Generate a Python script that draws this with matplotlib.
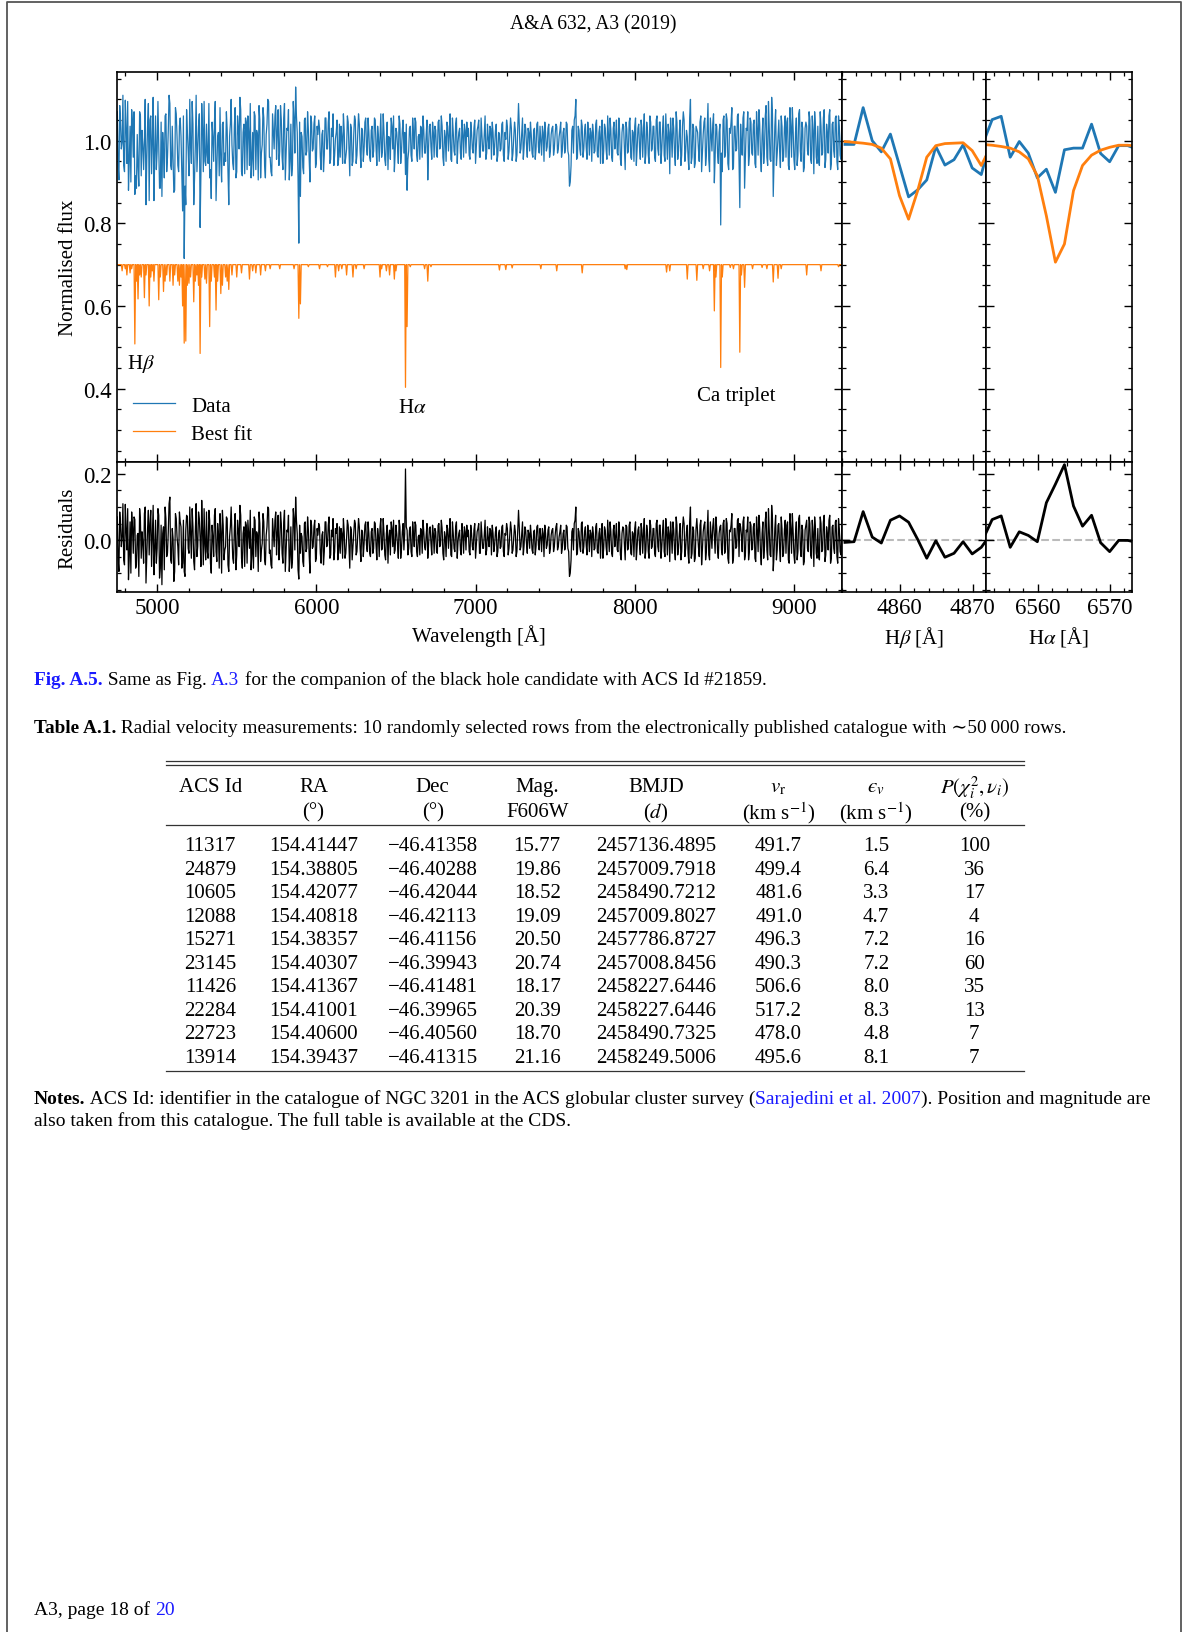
import numpy as np
import matplotlib
matplotlib.use("Agg")
import matplotlib.pyplot as plt
from matplotlib.lines import Line2D
from matplotlib.ticker import MultipleLocator

plt.rcParams['font.family'] = ['Liberation Serif', 'DejaVu Serif']
plt.rcParams['mathtext.fontset'] = 'stix'

# ==============================
# Data
# ==============================
# full spectrum, resampled on a 5 A grid (4750 ... 9300 A)
wave = np.arange(4750, 9301, 5)

# residuals (data - best fit) in units of 1e-3 at 4750, 4760, ... (20 values per 200 A)
resid_milli_a = [
    70, -95, 45, 10, -60, 108, -30, -120, 55, 85, -40, 62, -75, 20, 95, -55, -10, 80, -130, 35,
    -45, 90, 15, -105, 60, -25, 75, -85, -135, 40, 100, -50, 25, 130, -70, 5, -95, 65, -20, 85,
    40, -70, -95, 30, 70, -40, 20, 95, -65, 30, -50, 85, 5, 120, -75, -15, 85, -55, 60, -100,
    10, 75, -35, 50, -85, 25, 90, -60, -20, 65, -95, 40, 15, -70, 80, -45, 30, 105, -55, 20,
    -80, 45, 60, -25, -90, 35, 70, -50, 15, 85, -65, -10, 55, -75, 40, 95, -30, -85, 20, 60,
    -45, 75, -15, 50, -70, 90, -35, 25, -95, 40, -60, 65, 130, 20, -118, -40, 10, -80, 55, -25,
    30, -100, 45, -20, 60, -55, 15, 40, -70, 25, -35, 55, -15, 70, -45, 10, -60, 35, 50, -30,
    -40, 20, 65, -55, 5, 45, -85, 30, -20, 60, -45, 15, 40, -65, 25, -10, 55, -35, 20, -50,
    35, -25, 50, -60, 10, 40, -30, 65, -45, 20, -70, 30, 55, -20, -40, 45, -15, 60, -55, 25,
    -30, 215, 30, -25, 40, -50, 20, 55, -35, 10, -45, 30, 60, -20, 15, -55, 35, -10, 45, -40,
    25, -40, 50, -15, 35, -60, 10, 45, -25, 65, -50, 20, -35, 55, -5, 30, -45, 15, 40, -30,
    10, -35, 45, -20, 30, -55, 25, 50, -40, 15, -25, 60, -30, 5, 35, -45, 20, -15, 40, -35,
    30, -20, 45, -50, 15, 35, -25, 55, -40, 10, 25, -35, 90, -30, 20, -45, 40, -10, 30, -25,
    15, -40, 30, -20, 45, -30, 10, 35, -50, 20, -15, 40, -25, 30, -35, 15, 50, -20, 25, -40,
    20, -30, 45, -25, -110, -60, 35, 50, 100, -40, 25, -35, 55, -20, 40, -45, 15, 30, -50, 20,
    -25, 50, -40, 35, 15, -55, 40, -20, 60, -35, 25, -50, 45, 10, -30, 55, -45, 20, 35, -60,
    40, -25, 55, -45, 20, 35, -60, 30, -15, 50, -40, 65, -30, 25, -55, 45, -20, 35, -50, 60,
    -35, 45, -20, 60, -50, 25, 40, -65, 15, 55, -30, 70, -45, 20, -60, 35, 50, -25, 45, -70,
    100, -40, 30, -55, 65, -20, 45, -75, 25, 55, -35, 90, -60, 15, 40, 10, 70, -30, 20, 45,
    -45, 60, -30, 50, -70, 25, 80, -55, 35, -20, 65, 50, 15, 55, -60, 30, 70, -35, 45, -25,
    50, -65, 30, 75, -40, 20, -55, 60, -30, 95, -45, 105, -93, 35, -60, 45, -25, 70, -50, 30,
    -40, 55, -70, 35, 80, -45, 20, -60, 65, -25, 45, -75, 30, 60, -35, 50, -55, 25, 70, -40,
    35, -60, 50, -30, 75, -45, 20, 60, -70, 40, -25, 55, -50, 65, -35, 30,
]
# residuals at the half steps 4755, 4765, ... 9295
resid_milli_b = [
    -60, 85, -20, 110, -75, 30, 95, -50, -100, 40, 70, -85, 15, -110, 60, 25, -70, 100, -45, 90,
    50, -80, 105, -30, -70, 95, -115, 45, 20, -90, 65, -40, 110, -60, 35, -125, 80, 10, -75, 55,
    -85, 60, -110, 75, -25, 100, -55, 40, -90, 110, -20, 65, -80, 30, 95, -60, -35, 90, -70, 45,
    -50, 95, -65, 20, 80, -100, 45, -30, 70, -75, 10, 100, -55, 35, -90, 60, -20, 75, -85, 40,
    55, -70, 20, 90, -45, -85, 60, 25, -95, 50, -30, 80, -60, 15, 100, -40, -75, 65, -20, 85,
    20, -60, 85, -40, 55, -95, 30, 75, -50, -85, 95, -30, 60, -90, 45, 20, -65, 50, -35, 70,
    -45, 60, -25, 40, -65, 35, 50, -40, 15, -75, 55, -20, 45, -55, 30, 65, -35, 20, -60, 40,
    35, -55, 25, -40, 60, -20, 40, -60, 15, 50, -35, 65, -25, 30, -50, 45, -15, 55, -40, 25,
    -40, 55, -15, 35, -50, 65, -25, 20, -60, 45, 10, -45, 35, 60, -30, 20, -55, 40, -25, 50,
    20, 40, -45, 30, -35, 55, -20, 45, -50, 15, 35, -40, 25, -30, 50, -15, 40, -45, 20, 35,
    -35, 45, -20, 60, -40, 25, -50, 35, 15, -45, 55, -25, 40, -55, 20, -30, 50, -40, 25, 45,
    30, -45, 20, -30, 50, -15, 35, -40, 55, -25, 15, -45, 40, -20, 30, 45, -35, 25, -50, 20,
    -25, 40, -35, 20, 50, -45, 15, 30, -30, 45, -50, 25, 35, -20, 55, -15, 30, -40, 20, 45,
    -30, 25, -45, 40, -15, 35, -35, 20, 45, -25, 30, -40, 15, 35, -20, 40, -30, 10, 45, -25,
    30, -20, 40, -35, -100, 25, -30, 60, -45, 35, -20, 50, -40, 25, -15, 45, -35, 20, 40, -30,
    40, -35, 20, -55, 50, -25, 30, -45, 15, 55, -40, 30, -20, 50, -35, 25, -60, 40, -15, 45,
    -30, 45, -40, 25, -50, 55, -20, 40, -45, 30, 20, -55, 45, -35, 60, -25, 35, -40, 50, -20,
    45, -55, 30, -35, 65, -45, 20, 55, -40, 30, -60, 45, -25, 50, -35, 70, -50, 25, -40, 55,
    -55, 40, -65, 35, 20, -50, 60, -30, 45, -60, 30, -45, 55, -25, 65, -40, 35, -55, 40, -30,
    50, -40, 65, -55, 30, 45, -70, 35, -25, 60, -50, 40, -35, 70, -45, 25, -60, 55, -30, 40,
    -55, 70, -35, 40, -75, 55, -20, 85, -60, 30, -50, 65, -45, 75, -30, 50, -65, 35, -40, 60,
    45, -60, 80, -40, 25, -70, 55, -35, 75, -50, 30, -65, 45, -25, 70, -45, 60, -80, 35, -55,
    -50, 70, -35, 55, -65, 40, -30, 75, -55, 45, -40, 60, -70, 35, -45,
]

# absorption lines of the best-fit model (wavelength, normalised flux)
line_wave = [4780, 4800, 4810, 4830, 4840, 4860, 4870, 4880, 4890, 4900, 4920, 4930,
             4950, 4960, 4970, 4980, 5010, 5020, 5040, 5050, 5060, 5080, 5100, 5110,
             5130, 5140, 5150, 5160, 5170, 5180, 5190, 5200, 5210, 5230, 5240, 5250,
             5260, 5270, 5280, 5300, 5310, 5330, 5340, 5360, 5370, 5380, 5400, 5410,
             5430, 5440, 5450, 5470, 5500, 5530, 5580, 5600, 5620, 5650, 5680, 5710,
             5770, 5860, 5890, 5900, 5950, 6020, 6070, 6120, 6140, 6160, 6190, 6230,
             6250, 6300, 6400, 6410, 6440, 6460, 6490, 6500, 6560, 6570, 6590, 6680,
             6700, 6720, 7150, 7190, 7230, 7410, 7510, 7670, 7940, 7950, 8200, 8220,
             8330, 8390, 8430, 8470, 8500, 8510, 8540, 8550, 8600, 8620, 8660, 8670,
             8690, 8740, 8800, 8830, 8870, 8900, 8920, 9080, 9170, 9280]
line_flux = [0.985, 0.990, 0.975, 0.980, 0.990, 0.808, 0.960, 0.917, 0.975, 0.970, 0.920, 0.975,
             0.900, 0.970, 0.985, 0.960, 0.915, 0.970, 0.935, 0.960, 0.975, 0.960, 0.950, 0.975,
             0.960, 0.950, 0.970, 0.900, 0.810, 0.815, 0.950, 0.955, 0.970, 0.910, 0.960, 0.975,
             0.950, 0.785, 0.970, 0.965, 0.955, 0.850, 0.960, 0.970, 0.890, 0.960, 0.930, 0.950,
             0.970, 0.960, 0.940, 0.975, 0.970, 0.980, 0.965, 0.985, 0.980, 0.975, 0.985, 0.990,
             0.990, 0.990, 0.870, 0.905, 0.995, 0.990, 0.995, 0.970, 0.985, 0.990, 0.975, 0.970,
             0.990, 0.990, 0.970, 0.990, 0.985, 0.975, 0.965, 0.985, 0.703, 0.850, 0.995, 0.990,
             0.960, 0.995, 0.987, 0.988, 0.992, 0.990, 0.985, 0.980, 0.990, 0.988, 0.982, 0.985,
             0.965, 0.962, 0.990, 0.985, 0.888, 0.970, 0.751, 0.970, 0.993, 0.990, 0.788, 0.975,
             0.945, 0.990, 0.993, 0.990, 0.958, 0.967, 0.990, 0.975, 0.985, 0.995]
model_offset = 0.3

# zoom on H beta (native sampling)
hb_wave = [4852.45, 4853.70, 4854.95, 4856.20, 4857.45, 4858.70, 4859.95, 4861.20, 4862.45,
           4863.70, 4864.95, 4866.20, 4867.45, 4868.70, 4869.95, 4871.20, 4872.45]
hb_data = [0.991, 0.991, 1.080, 1.000, 0.973, 1.016, 0.940, 0.864, 0.881,
           0.905, 0.986, 0.941, 0.954, 0.990, 0.934, 0.918, 1.000]
hb_model = [0.998, 0.996, 0.994, 0.991, 0.982, 0.956, 0.867, 0.810, 0.879,
            0.960, 0.988, 0.993, 0.994, 0.995, 0.976, 0.940, 0.984]

# zoom on H alpha
ha_wave = [6552.45, 6553.70, 6554.95, 6556.20, 6557.45, 6558.70, 6559.95, 6561.20, 6562.45,
           6563.70, 6564.95, 6566.20, 6567.45, 6568.70, 6569.95, 6571.20, 6572.45, 6573.70]
ha_data = [0.994, 1.051, 1.059, 0.960, 0.998, 0.970, 0.910, 0.931, 0.875,
           0.978, 0.982, 0.982, 1.040, 0.969, 0.949, 0.988, 0.988, 0.980]
ha_model = [0.991, 0.989, 0.986, 0.982, 0.973, 0.956, 0.915, 0.818, 0.706,
            0.750, 0.879, 0.940, 0.965, 0.977, 0.984, 0.989, 0.989, 0.987]

# table A.1
tab_header1 = ["ACS Id", "RA", "Dec", "Mag.", "BMJD", r"$\mathit{v}_\mathrm{r}$",
               "$\u03f5_\\mathit{v}$", r"$P(\chi^2_i, \nu_i)$"]
tab_header2 = ["", "(°)", "(°)", "F606W", "($d$)", r"(km s$^{-1}$)", r"(km s$^{-1}$)", "(%)"]
acs_id = ["11317", "24879", "10605", "12088", "15271", "23145", "11426", "22284", "22723", "13914"]
ra = ["154.41447", "154.38805", "154.42077", "154.40818", "154.38357",
      "154.40307", "154.41367", "154.41001", "154.40600", "154.39437"]
dec = ["−46.41358", "−46.40288", "−46.42044", "−46.42113", "−46.41156",
       "−46.39943", "−46.41481", "−46.39965", "−46.40560", "−46.41315"]
mag = ["15.77", "19.86", "18.52", "19.09", "20.50", "20.74", "18.17", "20.39", "18.70", "21.16"]
bmjd = ["2457136.4895", "2457009.7918", "2458490.7212", "2457009.8027", "2457786.8727",
        "2457008.8456", "2458227.6446", "2458227.6446", "2458490.7325", "2458249.5006"]
v_r = ["491.7", "499.4", "481.6", "491.0", "496.3", "490.3", "506.6", "517.2", "478.0", "495.6"]
eps_v = ["1.5", "6.4", "3.3", "4.7", "7.2", "7.2", "8.0", "8.3", "4.8", "8.1"]
p_chi = ["100", "36", "17", "4", "16", "60", "35", "13", "7", "7"]

# ==============================
# Derived spectra
# ==============================
resid = np.empty(len(wave))
resid[0::2] = np.array(resid_milli_a) / 1000.0
resid[1::2] = np.array(resid_milli_b) / 1000.0
model = np.ones(len(wave))
for lw_, lf_ in zip(line_wave, line_flux):
    model[np.argmin(np.abs(wave - lw_))] = lf_
data = model + resid

hb_resid = np.array(hb_data) - np.array(hb_model)
ha_resid = np.array(ha_data) - np.array(ha_model)

# ==============================
# Page layout (pixels)
# ==============================
W, H = 1186, 1633
BLUE = '#1f77b4'
ORANGE = '#ff7f0e'
LINK = '#1a1aff'
FS = 15
TFS = 16.5  # tick labels
CFS = 13.9  # captions


def box(x0, y0, x1, y1):
    return [x0 / W, 1 - y1 / H, (x1 - x0) / W, (y1 - y0) / H]


def style(ax):
    ax.tick_params(which='both', direction='in', top=True, right=True, labelsize=TFS)
    ax.tick_params(which='major', length=5.5, width=1.0)
    ax.tick_params(which='minor', length=3.0, width=0.9)
    for sp in ax.spines.values():
        sp.set_linewidth(1.2)


fig = plt.figure(figsize=(W / 100, H / 100), dpi=100)

x_l, x_m, x_b, x_r = 116.7, 841.7, 986.0, 1131.7
y_t, y_m, y_b = 72.7, 462.7, 593.3

ax_main = fig.add_axes(box(x_l, y_t, x_m, y_m))
ax_res = fig.add_axes(box(x_l, y_m, x_m, y_b), sharex=ax_main)
ax_hb = fig.add_axes(box(x_m, y_t, x_b, y_m), sharey=ax_main)
ax_hb_res = fig.add_axes(box(x_m, y_m, x_b, y_b), sharex=ax_hb, sharey=ax_res)
ax_ha = fig.add_axes(box(x_b, y_t, x_r, y_m), sharey=ax_main)
ax_ha_res = fig.add_axes(box(x_b, y_m, x_r, y_b), sharex=ax_ha, sharey=ax_res)

# main spectrum
ax_main.plot(wave, data, color=BLUE, lw=0.9, label='Data')
ax_main.plot(wave, model - model_offset, color=ORANGE, lw=0.9, label='Best fit')
ax_main.set_xlim(4746, 9300)
ax_main.set_ylim(0.223, 1.167)
ax_main.set_ylabel('Normalised flux', fontsize=FS)
ax_main.text(4811, 0.462, r'H$\beta$', fontsize=FS, ha='left', va='center')
ax_main.text(6513, 0.355, r'H$\alpha$', fontsize=FS, ha='left', va='center')
ax_main.text(8391, 0.384, 'Ca triplet', fontsize=FS, ha='left', va='center')
ax_main.legend(loc='upper left', bbox_to_anchor=(0.0225, 0.168), frameon=False,
               fontsize=FS, borderpad=0, borderaxespad=0, handlelength=2.0,
               handletextpad=0.8, labelspacing=0.4)

ax_res.plot(wave, resid, color='black', lw=0.9)
ax_res.axhline(0, color='#bbbbbb', lw=1.5, ls='--', zorder=0)
ax_res.set_ylim(-0.158, 0.237)
ax_res.set_ylabel('Residuals', fontsize=FS)
ax_res.set_xlabel('Wavelength [Å]', fontsize=FS)

# zoom panels
ax_hb.plot(hb_wave, hb_data, color=BLUE, lw=2)
ax_hb.plot(hb_wave, hb_model, color=ORANGE, lw=2)
ax_hb.set_xlim(4852.0, 4871.85)
ax_hb_res.plot(hb_wave, hb_resid, color='black', lw=2)
ax_hb_res.axhline(0, color='#bbbbbb', lw=1.5, ls='--', zorder=0)
ax_hb_res.set_xlabel(r'H$\beta$ [Å]', fontsize=FS)

ax_ha.plot(ha_wave, ha_data, color=BLUE, lw=2)
ax_ha.plot(ha_wave, ha_model, color=ORANGE, lw=2)
ax_ha.set_xlim(6552.85, 6573.0)
ax_ha_res.plot(ha_wave, ha_resid, color='black', lw=2)
ax_ha_res.axhline(0, color='#bbbbbb', lw=1.5, ls='--', zorder=0)
ax_ha_res.set_xlabel(r'H$\alpha$ [Å]', fontsize=FS)

for ax in (ax_main, ax_res, ax_hb, ax_hb_res, ax_ha, ax_ha_res):
    style(ax)

ax_main.xaxis.set_major_locator(MultipleLocator(1000))
ax_main.xaxis.set_minor_locator(MultipleLocator(200))
ax_main.yaxis.set_major_locator(MultipleLocator(0.2))
ax_main.yaxis.set_minor_locator(MultipleLocator(0.05))
ax_res.yaxis.set_major_locator(MultipleLocator(0.2))
ax_res.yaxis.set_minor_locator(MultipleLocator(0.05))
for ax in (ax_hb, ax_ha):
    ax.xaxis.set_major_locator(MultipleLocator(10))
    ax.xaxis.set_minor_locator(MultipleLocator(2))

ax_main.tick_params(labelbottom=False)
for ax in (ax_hb, ax_ha):
    ax.tick_params(labelbottom=False, labelleft=False)
for ax in (ax_hb_res, ax_ha_res):
    ax.tick_params(labelleft=False)

# ==============================
# Page text
# ==============================
renderer = fig.canvas.get_renderer()


def rich_text(x_px, y_px, parts, size):
    x = x_px
    for s, color, weight in parts:
        t = fig.text(x / W, 1 - y_px / H, s, color=color, fontweight=weight,
                     fontsize=size, ha='left', va='baseline')
        x += t.get_window_extent(renderer).width


def hline(x0, x1, y, lw=1.0, color='black'):
    fig.add_artist(Line2D([x0 / W, x1 / W], [1 - y / H, 1 - y / H], lw=lw, color=color,
                          transform=fig.transFigure))


# page frame
fig.add_artist(Line2D([6.5 / W, 6.5 / W, 1180.7 / W, 1180.7 / W],
                      [0, 1 - 2.5 / H, 1 - 2.5 / H, 0], lw=1.3, color='#555555',
                      transform=fig.transFigure))

fig.text(593 / W, 1 - 29.5 / H, 'A&A 632, A3 (2019)', fontsize=14.1, ha='center', va='baseline')

rich_text(34, 685, [('Fig. A.5.', LINK, 'bold'), (' Same as Fig. ', 'black', 'normal'),
                    ('A.3', LINK, 'normal'),
                    (' for the companion of the black hole candidate with ACS Id #21859.',
                     'black', 'normal')], CFS)

rich_text(34, 733, [('Table A.1.', 'black', 'bold'),
                    (' Radial velocity measurements: 10 randomly selected rows from the '
                     'electronically published catalogue with ∼50\u2009000 rows.',
                     'black', 'normal')], CFS)

# table
tx0, tx1 = 166, 1023.7
hline(tx0, tx1, 762, lw=0.9, color='#333333')
hline(tx0, tx1, 766, lw=0.9, color='#333333')
hline(tx0, tx1, 826, lw=0.9, color='#333333')
hline(tx0, tx1, 1072, lw=0.9, color='#333333')
col_x = [210.3, 313.6, 432.7, 537.2, 656.0, 778.6, 876.2, 974.3]
for cx, h1, h2 in zip(col_x, tab_header1, tab_header2):
    fig.text(cx / W, 1 - 788 / H, h1, fontsize=FS, ha='center', va='center')
    fig.text(cx / W, 1 - 813 / H, h2, fontsize=FS, ha='center', va='center')
columns = [acs_id, ra, dec, mag, bmjd, v_r, eps_v, p_chi]
for i in range(len(acs_id)):
    yy = 846.7 + 23.5 * i
    for cx, col in zip(col_x, columns):
        fig.text(cx / W, 1 - yy / H, col[i], fontsize=FS, ha='center', va='center')

rich_text(34, 1104, [('Notes.', 'black', 'bold'),
                     (' ACS Id: identifier in the catalogue of NGC\u20093201 in the ACS globular '
                      'cluster survey (', 'black', 'normal'),
                     ('Sarajedini et al. 2007', LINK, 'normal'),
                     ('). Position and magnitude are', 'black', 'normal')], 14.0)
rich_text(34, 1126, [('also taken from this catalogue. The full table is available at the CDS.',
                      'black', 'normal')], 14.0)

rich_text(34, 1615, [('A3, page 18 of ', 'black', 'normal'), ('20', LINK, 'normal')], 14)

fig.savefig('out.png', dpi=100)
